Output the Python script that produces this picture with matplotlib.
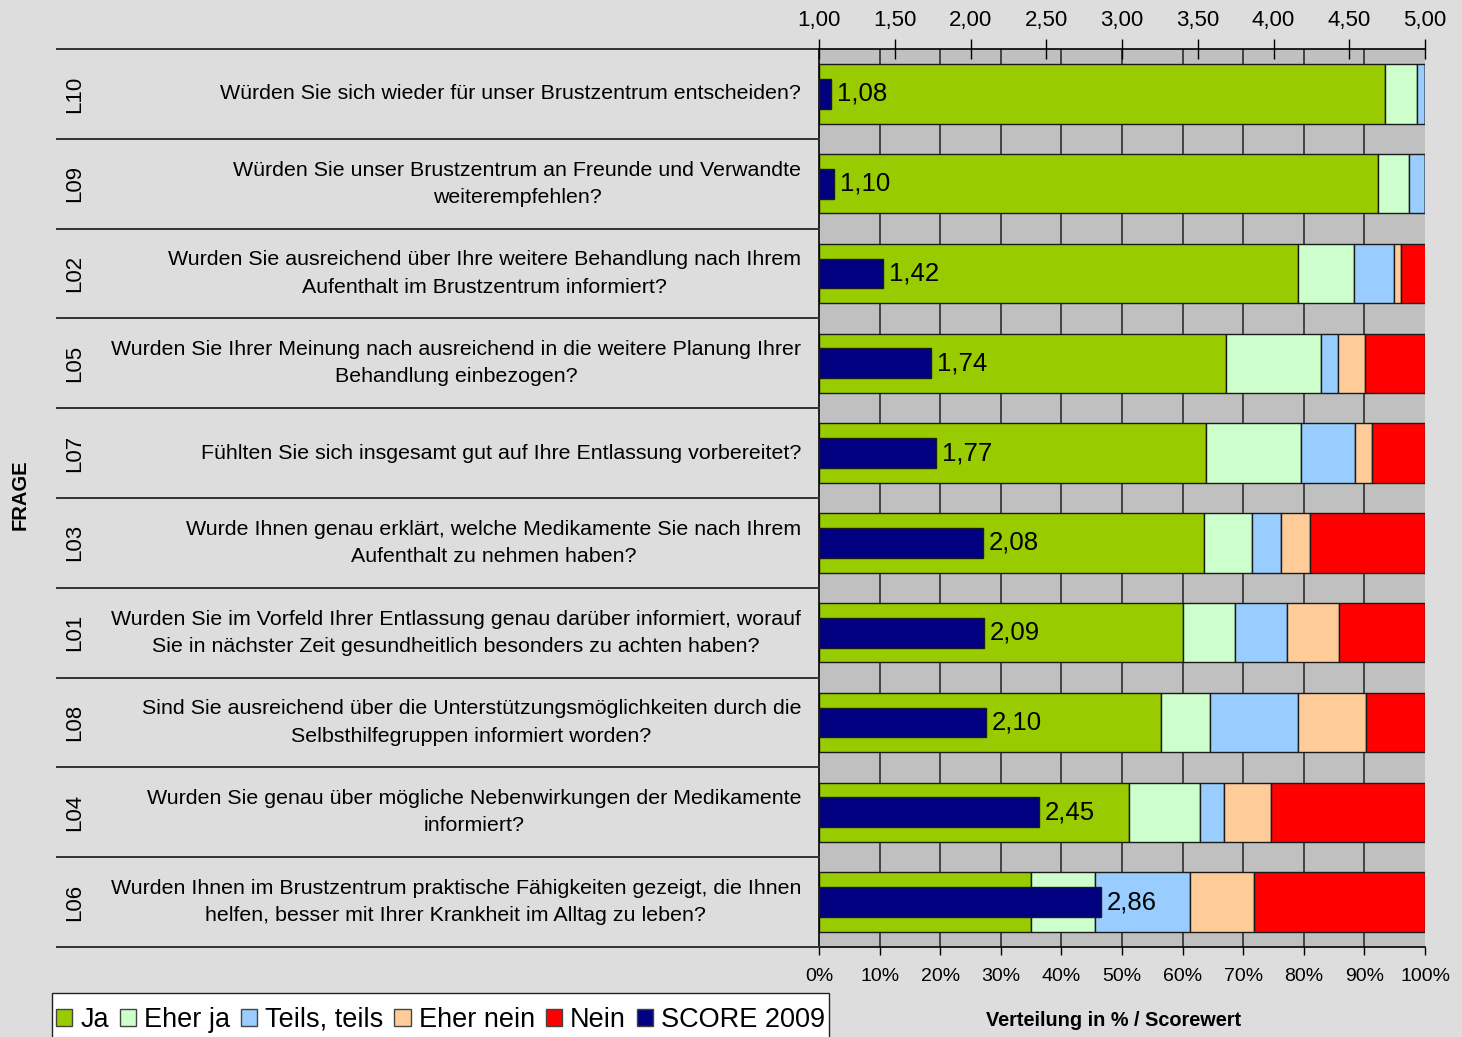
import matplotlib
matplotlib.use('Agg')
import matplotlib.pyplot as plt
from matplotlib.patches import Patch, Rectangle
from matplotlib.ticker import FuncFormatter
import numpy as np

plt.rcParams['font.family'] = ['Liberation Sans', 'DejaVu Sans']

# questions, listed from top to bottom
codes = ['L10', 'L09', 'L02', 'L05', 'L07', 'L03', 'L01', 'L08', 'L04', 'L06']
questions = [
    'Würden Sie sich wieder für unser Brustzentrum entscheiden?',
    'Würden Sie unser Brustzentrum an Freunde und Verwandte\nweiterempfehlen?',
    'Wurden Sie ausreichend über Ihre weitere Behandlung nach Ihrem\nAufenthalt im Brustzentrum informiert?',
    'Wurden Sie Ihrer Meinung nach ausreichend in die weitere Planung Ihrer\nBehandlung einbezogen?',
    'Fühlten Sie sich insgesamt gut auf Ihre Entlassung vorbereitet?',
    'Wurde Ihnen genau erklärt, welche Medikamente Sie nach Ihrem\nAufenthalt zu nehmen haben?',
    'Wurden Sie im Vorfeld Ihrer Entlassung genau darüber informiert, worauf\nSie in nächster Zeit gesundheitlich besonders zu achten haben?',
    'Sind Sie ausreichend über die Unterstützungsmöglichkeiten durch die\nSelbsthilfegruppen informiert worden?',
    'Wurden Sie genau über mögliche Nebenwirkungen der Medikamente\ninformiert?',
    'Wurden Ihnen im Brustzentrum praktische Fähigkeiten gezeigt, die Ihnen\nhelfen, besser mit Ihrer Krankheit im Alltag zu leben?',
]

# answer distribution in percent
ja = [93.4, 92.2, 79.0, 67.1, 63.8, 63.5, 60.0, 56.4, 51.1, 35.0]
eher_ja = [5.3, 5.2, 9.3, 15.7, 15.8, 7.9, 8.6, 8.1, 11.7, 10.6]
teils = [1.3, 2.6, 6.6, 2.8, 8.8, 4.8, 8.6, 14.6, 4.0, 15.7]
eher_nein = [0.0, 0.0, 1.2, 4.5, 2.8, 4.8, 8.6, 11.2, 7.8, 10.5]
nein = [0.0, 0.0, 4.0, 9.9, 8.8, 19.0, 14.2, 9.7, 25.4, 28.2]

# mean score (1 = best, 5 = worst)
scores = [1.08, 1.10, 1.42, 1.74, 1.77, 2.08, 2.09, 2.10, 2.45, 2.86]

series = [ja, eher_ja, teils, eher_nein, nein]
series_names = ['Ja', 'Eher ja', 'Teils, teils', 'Eher nein', 'Nein']
colors = ['#99cc00', '#ccffcc', '#99ccff', '#ffcc99', '#ff0000']
score_color = '#000080'
bg = '#dddddd'

W, H = 1462, 1037
fig = plt.figure(figsize=(W / 100, H / 100), dpi=100, facecolor=bg)
ax = fig.add_axes([819 / W, 90 / H, 606 / W, 898 / H])
ax.set_facecolor('#c0c0c0')

n = len(codes)
y = np.arange(n)

# gridlines every 10 %
for g in range(10, 100, 10):
    ax.axvline(g, color='#222222', lw=1.1, zorder=1)

left = np.zeros(n)
for vals, col in zip(series, colors):
    vals = np.array(vals)
    ax.barh(y, vals, left=left, height=0.66, color=col, edgecolor='#1a1a1a',
            linewidth=1.0, zorder=2)
    left += vals

ax.set_xlim(0, 100)
ax.set_ylim(n - 0.5, -0.5)
ax.set_xticks(range(0, 101, 10))
ax.set_xticklabels([f'{v}%' for v in range(0, 101, 10)], fontsize=14)
ax.tick_params(axis='x', direction='out', length=6, width=1, pad=9)
ax.set_yticks([])
ax.spines['right'].set_visible(False)
ax.spines['top'].set_visible(False)
for s in ['left', 'bottom']:
    ax.spines[s].set_linewidth(1.2)

# score bars on a second axis scaled 1..5
ax2 = ax.twiny()
ax2.set_xlim(1, 5)
ax2.barh(y, np.array(scores) - 1, left=1, height=0.33, color=score_color,
         edgecolor='#1a1a1a', linewidth=1.0, zorder=3)
for yi, s in zip(y, scores):
    ax2.text(s + 0.04, yi, f'{s:.2f}'.replace('.', ','), va='center', ha='left',
             fontsize=18.5, zorder=4)
ax2.set_xticks(np.arange(1, 5.01, 0.5))
ax2.xaxis.set_major_formatter(FuncFormatter(lambda v, p: f'{v:.2f}'.replace('.', ',')))
ax2.tick_params(axis='x', direction='inout', length=14, width=1, pad=6, labelsize=16)
ax2.spines['right'].set_visible(False)
ax2.spines['bottom'].set_visible(False)
ax2.spines['left'].set_visible(False)
ax2.spines['top'].set_linewidth(1.2)

# category area on the left
trans = ax.get_yaxis_transform()
x0 = (57 - 819) / 606
for b in np.arange(-0.5, n, 1.0):
    ax.plot([x0, 0], [b, b], transform=trans, color='#333333', lw=1.4,
            clip_on=False, zorder=5)
for yi, code, q in zip(y, codes, questions):
    ax.text((75 - 819) / 606, yi, code, transform=trans, rotation=90,
            ha='center', va='center', fontsize=16)
    ax.text((801 - 819) / 606, yi, q, transform=trans, ha='right', va='center',
            multialignment='center', fontsize=15.4, linespacing=1.55)

fig.text(20 / W, 1 - 495 / H, 'FRAGE', rotation=90, ha='center',
         va='center', fontsize=14.5, fontweight='bold')
fig.text(1114 / W, 1 - 1021 / H, 'Verteilung in % / Scorewert',
         ha='center', va='center', fontsize=14.3, fontweight='bold')

# legend box runs off the bottom edge
fig.patches.append(Rectangle((52 / W, -0.02), (829 - 52) / W, 0.02 + 1 - 993 / H,
                             transform=fig.transFigure, facecolor='white',
                             edgecolor='#222222', linewidth=1.0, zorder=1))
handles = [Patch(facecolor=c, edgecolor='#444444', label=l)
           for c, l in zip(colors, series_names)]
handles.append(Patch(facecolor=score_color, edgecolor='#444444', label='SCORE 2009'))
fig.legend(handles=handles, loc='center left', bbox_to_anchor=(53 / W, 1 - 1020 / H),
           ncol=6, fontsize=19.5, frameon=False, handlelength=0.6,
           handleheight=0.6, handletextpad=0.3, columnspacing=0.4,
           borderpad=0.1, borderaxespad=0)

fig.savefig('out.png', dpi=100, facecolor=bg)
